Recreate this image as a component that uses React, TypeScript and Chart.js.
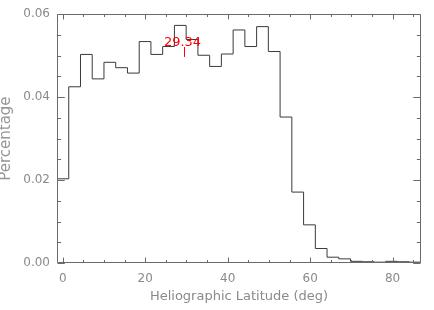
import { useEffect, useRef } from 'react';
import { Chart, registerables } from 'chart.js';

Chart.register(...registerables);

// Lower edge of every latitude bin (deg), and the upper edge of the last bin
const binStartLatitudes = [
  -1.4, 1.45, 4.3, 7.14, 9.99, 12.84, 15.69, 18.54, 21.38, 24.23, 27.08, 29.93,
  32.78, 35.62, 38.47, 41.32, 44.17, 47.02, 49.86, 52.71, 55.56, 58.41, 61.26,
  64.1, 66.95, 69.8, 72.65, 75.5, 78.34, 81.19, 84.04,
];
const lastBinEnd = 86.89;

// Fraction of events in each bin
const percentages = [
  0.0203, 0.0425, 0.0503, 0.0444, 0.0484, 0.0471, 0.0458, 0.0534, 0.0503, 0.0522,
  0.0573, 0.0539, 0.0501, 0.0474, 0.0504, 0.0562, 0.0522, 0.057, 0.051, 0.0352,
  0.0171, 0.0092, 0.0035, 0.0014, 0.001, 0.0004, 0.0003, 0.0002, 0.0004, 0.0003,
  0.0002,
];

const xTickLabels = [0, 20, 40, 60, 80];
const yTickLabels = [0.0, 0.02, 0.04, 0.06];

const meanLatitude = 29.34;
const meanLabel = '29.34';
const meanMarkTop = 0.0521;
const meanMarkBottom = 0.0497;
const meanTextBase = 0.0524;

const TEXT = '#8a8a8a';
const FRAME = '#6a6a6a';
const FONT = "'DejaVu Sans', sans-serif";

const isMajor = (v: number, list: number[]) =>
  list.some((m) => Math.abs(m - v) < 1e-9);

const frameTicks = {
  id: 'frameTicks',
  afterDraw(chart: any) {
    const { ctx, chartArea: a, scales } = chart;
    const x = scales.x;
    const y = scales.y;
    const L = Math.round(a.left) + 0.5;
    const R = Math.round(a.right) - 0.5;
    const T = Math.round(a.top) + 0.5;
    const B = Math.round(a.bottom) - 0.5;
    ctx.save();
    ctx.strokeStyle = FRAME;
    ctx.lineWidth = 1;
    ctx.beginPath();
    ctx.moveTo(L, T);
    ctx.lineTo(R, T);
    ctx.lineTo(R, B);
    ctx.lineTo(L, B);
    ctx.closePath();
    const h = a.bottom - a.top;
    const w = a.right - a.left;
    const xMaj = h * 0.02;
    const yMaj = w * 0.02;
    x.ticks.forEach((t: any) => {
      const px = Math.round(x.getPixelForValue(t.value)) + 0.5;
      const len = isMajor(t.value, xTickLabels) ? xMaj : xMaj / 2;
      ctx.moveTo(px, B);
      ctx.lineTo(px, B - len);
      ctx.moveTo(px, T);
      ctx.lineTo(px, T + len);
    });
    y.ticks.forEach((t: any) => {
      const py = Math.round(y.getPixelForValue(t.value)) + 0.5;
      const len = isMajor(t.value, yTickLabels) ? yMaj : yMaj / 2;
      ctx.moveTo(L, py);
      ctx.lineTo(L + len, py);
      ctx.moveTo(R, py);
      ctx.lineTo(R - len, py);
    });
    ctx.stroke();
    ctx.restore();
  },
};

const meanMarker = {
  id: 'meanMarker',
  afterDatasetsDraw(chart: any) {
    const { ctx, scales } = chart;
    const px = Math.round(scales.x.getPixelForValue(meanLatitude)) + 0.5;
    ctx.save();
    ctx.strokeStyle = '#ff0000';
    ctx.lineWidth = 1;
    ctx.beginPath();
    ctx.moveTo(px, scales.y.getPixelForValue(meanMarkTop));
    ctx.lineTo(px, scales.y.getPixelForValue(meanMarkBottom));
    ctx.stroke();
    ctx.fillStyle = '#ff0000';
    ctx.font = `13px ${FONT}`;
    ctx.textAlign = 'center';
    ctx.textBaseline = 'alphabetic';
    ctx.fillText(meanLabel, px - 2, scales.y.getPixelForValue(meanTextBase));
    ctx.restore();
  },
};

export default function App() {
  const ref = useRef<HTMLCanvasElement | null>(null);

  useEffect(() => {
    document.body.style.margin = '0';
    const canvas = ref.current;
    if (!canvas) return;
    const points = binStartLatitudes.map((x, i) => ({ x, y: percentages[i] }));
    points.push({ x: lastBinEnd, y: percentages[percentages.length - 1] });

    const chart = new Chart(canvas, {
      type: 'line',
      data: {
        datasets: [
          {
            data: points,
            stepped: 'before',
            borderColor: '#3a3a3a',
            borderWidth: 1,
            pointRadius: 0,
            fill: false,
            tension: 0,
          },
        ],
      },
      options: {
        animation: false,
        responsive: false,
        devicePixelRatio: 1,
        layout: { padding: { top: 9, right: 13, left: 0, bottom: 0 } },
        plugins: {
          legend: { display: false },
          tooltip: { enabled: false },
        },
        scales: {
          x: {
            type: 'linear',
            min: -1.4,
            max: lastBinEnd,
            grid: { display: false, drawTicks: false },
            border: { display: false },
            ticks: {
              stepSize: 5,
              includeBounds: false,
              autoSkip: false,
              maxRotation: 0,
              padding: 9,
              color: TEXT,
              font: { family: FONT, size: 12 },
              callback: (v: any) => (isMajor(Number(v), xTickLabels) ? String(Math.round(Number(v))) : ''),
            },
            title: {
              display: true,
              text: 'Heliographic Latitude (deg)',
              color: TEXT,
              font: { family: FONT, size: 13 },
              padding: { top: 0, bottom: 6 },
            },
            afterFit: (s: any) => {
              s.height = 47;
            },
          },
          y: {
            type: 'linear',
            min: 0,
            max: 0.06,
            grid: { display: false, drawTicks: false },
            border: { display: false },
            ticks: {
              stepSize: 0.005,
              includeBounds: false,
              autoSkip: false,
              padding: 7,
              color: TEXT,
              font: { family: FONT, size: 12 },
              callback: (v: any) => (isMajor(Number(v), yTickLabels) ? Number(v).toFixed(2) : ''),
            },
            title: {
              display: true,
              text: 'Percentage',
              color: '#959595',
              font: { family: FONT, size: 15, lineHeight: 0.85 },
              padding: { top: 0, bottom: 0 },
            },
            afterFit: (s: any) => {
              s.width = 57;
            },
          },
        },
      },
      plugins: [frameTicks, meanMarker],
    });
    return () => chart.destroy();
  }, []);

  return (
    <div style={{ width: 434, height: 310 }}>
      <canvas ref={ref} width={434} height={310} style={{ display: 'block' }} />
    </div>
  );
}
